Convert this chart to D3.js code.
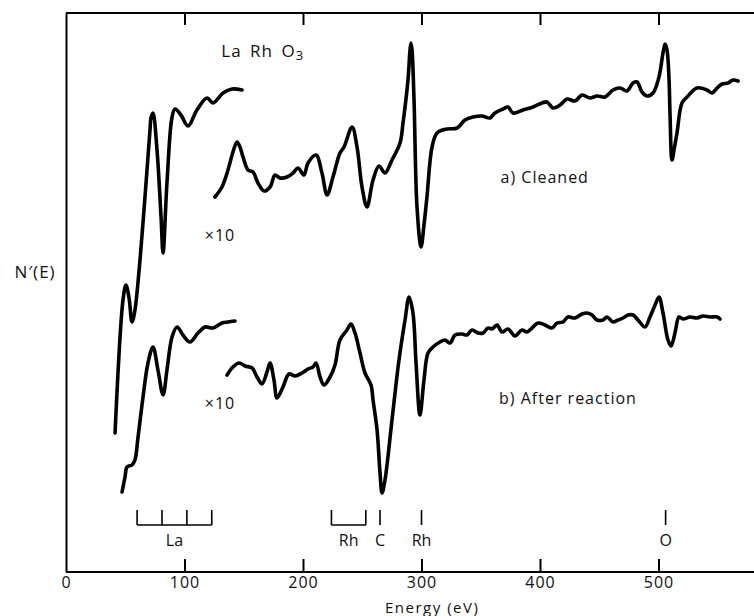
<!DOCTYPE html>
<html>
<head>
<meta charset="utf-8">
<script src="https://cdn.jsdelivr.net/npm/d3@7"></script>
<style>
body { margin: 0; background: #fff; }
svg { display: block; }
text { font-family: "Open Sans", "DejaVu Sans", sans-serif; fill: #111; }
.curve { fill: none; stroke: #000; stroke-width: 3.6; stroke-linejoin: round; stroke-linecap: round; }
.frame path, .frame line { stroke: #000; stroke-width: 2; }
.marker { stroke: #000; stroke-width: 1.6; fill: none; }
</style>
</head>
<body>
<div class="container"></div>
<script>
// Energy (eV), N'(E) in arbitrary units
var cleanedLa = [[41.4,13.9],[48.1,27.2],[50.6,28.7],[53.2,27.4],[55.7,25.0],[58.2,26.2],[70.9,44.2],[71.7,45.4],[73.4,45.9],[76.8,42.2],[80.2,35.5],[81.9,31.9],[85.2,38.9],[89.5,45.5],[92.0,46.3],[97.0,45.7],[103.0,44.6],[110.5,46.2],[119.0,47.4],[124.1,46.9],[132.5,47.9],[140.1,48.3],[148.5,48.2]];

var cleanedX10 = [[125.7,37.5],[131.6,38.5],[136.7,40.2],[140.9,42.0],[144.3,43.0],[146.8,42.5],[149.4,41.5],[153.6,40.2],[157.8,40.0],[162.0,38.9],[167.1,38.1],[172.2,38.5],[176.4,39.7],[180.6,39.4],[186.5,39.5],[191.6,39.9],[195.8,40.4],[200.8,39.7],[204.2,40.9],[211.0,41.7],[216.0,39.9],[220.3,37.7],[225.3,39.5],[231.2,41.9],[234.6,42.5],[241.4,44.5],[245.6,42.5],[249.8,38.5],[254.0,36.5],[259.1,39.2],[264.1,40.6],[269.2,39.9],[275.1,41.2],[281.9,42.9],[284.4,44.9],[288.6,49.2],[290.3,52.2],[291.1,52.9],[292.0,52.2],[293.7,47.2],[296.2,36.5],[299.6,32.5],[302.1,34.7],[304.6,37.5],[308.9,42.5],[313.1,43.9],[321.5,44.3],[330.0,44.4],[336.7,45.2],[343.5,45.5],[351.1,45.6],[357.8,45.4],[362.0,45.9],[368.8,46.3],[373.0,46.5],[377.2,45.9],[385.7,46.2],[394.1,46.5],[401.7,46.9],[405.9,47.0],[411.0,46.4],[416.9,46.7],[422.8,47.3],[429.5,47.1],[435.5,47.7],[442.2,47.4],[448.1,47.6],[454.9,47.5],[461.6,48.2],[467.5,48.4],[473.4,48.1],[478.5,48.9],[481.9,49.0],[486.1,48.0],[490.3,47.6],[495.4,47.9],[500.4,49.5],[503.8,51.9],[505.5,52.8],[507.2,52.2],[508.9,49.2],[509.7,45.9],[511.4,41.2],[513.1,42.2],[515.6,43.9],[519.8,46.9],[524.1,47.5],[532.5,48.4],[540.9,48.2],[545.2,47.9],[549.4,48.4],[553.6,48.8],[558.7,48.9],[562.9,49.2],[567.1,49.1]];

var reactedLa = [[47.3,8.0],[49.8,9.5],[51.5,10.5],[55.7,10.7],[58.2,11.2],[60.8,13.5],[65.0,17.5],[69.2,20.9],[73.4,22.5],[77.6,20.2],[81.9,17.7],[85.2,20.2],[89.5,23.5],[93.7,24.5],[98.7,23.7],[104.6,23.0],[111.4,23.9],[117.3,24.5],[124.1,24.4],[131.6,24.9],[136.7,25.0],[142.6,25.1]];

var reactedX10 = [[135.9,19.7],[140.9,20.5],[146.0,20.9],[151.1,20.6],[157.0,20.4],[161.2,19.5],[165.4,18.8],[169.6,20.0],[172.2,20.9],[175.5,19.2],[178.1,17.4],[183.1,18.5],[188.2,19.8],[193.3,19.6],[199.2,19.9],[204.2,20.3],[208.4,20.5],[211.0,20.9],[214.4,19.5],[217.7,18.7],[222.8,19.5],[227.0,20.7],[231.2,23.2],[237.1,24.2],[240.5,24.8],[243.9,23.9],[248.1,21.9],[252.3,19.9],[257.4,18.7],[259.1,17.2],[262.5,14.2],[265.0,9.9],[266.7,7.9],[269.2,9.2],[275.1,15.2],[281.0,21.2],[286.1,25.2],[289.5,27.5],[292.8,25.9],[295.4,20.9],[298.7,15.7],[302.1,19.2],[305.5,21.9],[309.7,22.5],[315.6,23.0],[319.8,23.2],[324.1,22.9],[328.3,23.7],[334.2,23.8],[338.4,23.7],[342.6,24.2],[347.7,23.9],[351.9,23.9],[356.1,24.4],[359.5,24.3],[363.7,24.7],[367.9,24.0],[373.0,24.3],[378.9,23.6],[384.8,24.2],[389.0,24.0],[393.3,24.4],[398.3,24.9],[404.2,24.7],[410.1,24.4],[414.4,24.9],[419.4,25.0],[423.6,25.5],[429.5,25.4],[435.5,25.8],[439.7,25.9],[443.9,25.7],[448.1,25.2],[453.2,25.2],[456.5,25.5],[461.6,25.0],[465.8,25.2],[470.1,25.4],[474.3,25.7],[478.5,25.7],[482.7,25.2],[488.6,24.5],[492.8,25.5],[497.1,26.7],[500.4,27.5],[503.8,25.9],[508.0,23.2],[510.6,22.6],[513.9,23.9],[517.3,25.5],[520.7,25.3],[526.6,25.5],[532.5,25.4],[537.6,25.6],[543.5,25.5],[549.4,25.5],[551.9,25.3]];

var xTicks = [0, 100, 200, 300, 400, 500];
var markerLabels = ['La', 'Rh', 'C', 'Rh', 'O'];
var markerEnergies = [[60, 81, 102, 123], [224, 253], [265], [300], [506]];

const WIDTH = 754;
const HEIGHT = 616;
const LEFT = 66;
const TOP = 13;
const BOTTOM = 572;

var xScale = d3.scaleLinear().domain([0, 580]).range([LEFT, LEFT + 580 * 1.185]);
var yScale = d3.scaleLinear().domain([0, 55.9]).range([BOTTOM, TOP]);

var translate = function(x, y){
	return "translate(" + x + "," + y + ")";
};

var svg = d3.select('.container').append('svg')
	.attr('width', WIDTH)
	.attr('height', HEIGHT);

// frame: bottom axis with labels, top axis with ticks only, plain left edge
svg.append('g')
	.classed('frame', true)
	.attr('transform', translate(0, BOTTOM))
	.call(d3.axisBottom(xScale).tickValues(xTicks).tickSize(-13).tickSizeOuter(0).tickPadding(4))
	.call(function(g){
		g.selectAll('text').style('font-size', '16px').attr('y', 4).attr('dy', '0.75em').style('letter-spacing', '1px');
		g.selectAll('.tick').filter(function(d){ return d === 0; }).select('line').remove();
		g.select('.domain').attr('d', 'M' + LEFT + ',0H' + WIDTH);
	});

svg.append('g')
	.classed('frame', true)
	.attr('transform', translate(0, TOP))
	.call(d3.axisTop(xScale).tickValues(xTicks.slice(1)).tickSize(-12).tickSizeOuter(0).tickFormat(''))
	.call(function(g){
		g.select('.domain').attr('d', 'M' + LEFT + ',0H' + WIDTH);
	});

svg.append('g')
	.classed('frame', true)
	.attr('transform', translate(LEFT, 0))
	.call(d3.axisLeft(yScale).tickValues([]).tickSizeOuter(0));

svg.append('text')
	.attr('x', xScale(309))
	.attr('y', 607)
	.attr('text-anchor', 'middle')
	.attr('dominant-baseline', 'central')
	.style('font-size', '15px')
	.style('letter-spacing', '1.5px')
	.text('Energy (eV)');

svg.append('text')
	.attr('x', 35)
	.attr('y', 271)
	.attr('text-anchor', 'middle')
	.attr('dominant-baseline', 'central')
	.style('font-size', '17px')
	.style('letter-spacing', '1px')
	.text('N\u2032(E)');

// spectra
var line = d3.line()
	.x(function(d){ return xScale(d[0]); })
	.y(function(d){ return yScale(d[1]); })
	.curve(d3.curveCatmullRom.alpha(0.5));

var g = svg.append('g');
[cleanedLa, cleanedX10, reactedLa, reactedX10].forEach(function(series){
	g.append('path').classed('curve', true).attr('d', line(series));
});

// annotations
var note = function(text, e, v, size){
	return svg.append('text')
		.attr('x', xScale(e))
		.attr('y', yScale(v))
		.attr('text-anchor', 'middle')
		.attr('dominant-baseline', 'central')
		.style('font-size', size + 'px')
		.style('letter-spacing', '1px')
		.text(text);
};

var title = note('La Rh O', 166, 52.2, 17).style('word-spacing', '3px');
title.append('tspan').attr('dy', '5').style('font-size', '13px').text('3');
note('\u00d710', 130, 33.7, 16);
note('\u00d710', 130, 16.9, 16);
note('a) Cleaned', 404, 39.5, 16);
note('b) After reaction', 423.6, 17.4, 16);

// element markers under the spectra
var MARK_LINE = 525;
var MARK_TOP = 510;
var marks = svg.append('g');
markerEnergies.forEach(function(energies, i){
	var xs = energies.map(function(e){ return xScale(e); });
	if (xs.length > 1) {
		marks.append('line').classed('marker', true)
			.attr('x1', xs[0]).attr('x2', xs[xs.length - 1])
			.attr('y1', MARK_LINE).attr('y2', MARK_LINE);
	}
	xs.forEach(function(x){
		marks.append('line').classed('marker', true)
			.attr('x1', x).attr('x2', x)
			.attr('y1', MARK_TOP).attr('y2', MARK_LINE);
	});
	marks.append('text')
		.attr('x', d3.mean(xs))
		.attr('y', MARK_LINE + 15)
		.attr('text-anchor', 'middle')
		.attr('dominant-baseline', 'central')
		.style('font-size', '16px')
		.text(markerLabels[i]);
});
</script>
</body>
</html>
